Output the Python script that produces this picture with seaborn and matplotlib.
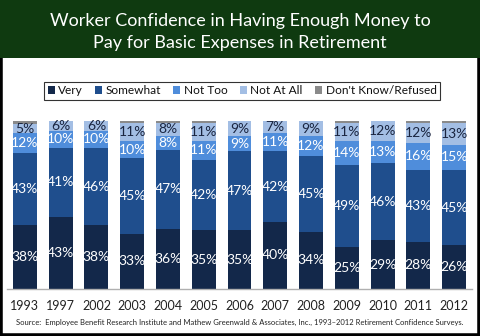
import matplotlib
matplotlib.use("Agg")
import matplotlib.pyplot as plt
import seaborn as sns
import numpy as np
from matplotlib.patches import Rectangle, Patch

years = ["1993", "1997", "2002", "2003", "2004", "2005", "2006", "2007", "2008", "2009", "2010", "2011", "2012"]
very = [38, 43, 38, 33, 36, 35, 35, 40, 34, 25, 29, 28, 26]
somewhat = [43, 41, 46, 45, 47, 42, 47, 42, 45, 49, 46, 43, 45]
not_too = [12, 10, 10, 10, 8, 11, 9, 11, 12, 14, 13, 16, 15]
not_at_all = [5, 6, 6, 11, 8, 11, 9, 7, 9, 11, 12, 12, 13]
dont_know = [2, 0, 0, 1, 1, 1, 0, 0, 0, 1, 0, 1, 1]

series_names = ["Very", "Somewhat", "Not Too", "Not At All", "Don't Know/Refused"]
series_vals = [very, somewhat, not_too, not_at_all, dont_know]
colors = ["#13284a", "#1f4e8d", "#4f8ddb", "#a3bee4", "#8a8a8a"]
label_colors = ["white", "white", "white", "#1a2540", None]

sns.set_style("white")
plt.rcParams["font.family"] = ["Lato", "DejaVu Sans"]

fig = plt.figure(figsize=(4.8, 3.36), dpi=100, facecolor="white")
W, H = 480, 336

# border and title bar
fig.patches.append(Rectangle((0, 0), 1, 1, transform=fig.transFigure,
                             facecolor="none", edgecolor="black", linewidth=4, zorder=5))
fig.patches.append(Rectangle((0, 1 - 58 / H), 1, 58 / H, transform=fig.transFigure,
                             facecolor="#0f3a10", edgecolor="none", zorder=6))
fig.text(0.5, 1 - 21 / H, "Worker Confidence in Having Enough Money to",
         color="white", ha="center", va="center", fontsize=13, zorder=7)
fig.text(0.5, 1 - 43 / H, "Pay for Basic Expenses in Retirement",
         color="white", ha="center", va="center", fontsize=13, zorder=7)

ax = fig.add_axes([7 / W, 1 - 289 / H, (472 - 7) / W, (289 - 121) / H])

bottom = np.zeros(len(years))
for name, vals, col in zip(series_names, series_vals, colors):
    v = np.array(vals, dtype=float)
    sns.barplot(x=years, y=v, order=years, color=col, bottom=bottom, width=0.67,
                ax=ax, saturation=1, linewidth=0, edgecolor="none")
    bottom = bottom + v

bottom = np.zeros(len(years))
for vals, lc in zip(series_vals, label_colors):
    v = np.array(vals, dtype=float)
    if lc is not None:
        for i, val in enumerate(v):
            ax.text(i, bottom[i] + val / 2, f"{int(val)}%", ha="center", va="center",
                    color=lc, fontsize=10, clip_on=False)
    bottom = bottom + v

ax.set_xlim(-0.5, len(years) - 0.5)
ax.set_ylim(0, 100)
ax.set_yticks([])
for s in ["top", "right", "left"]:
    ax.spines[s].set_visible(False)
ax.spines["bottom"].set_color("#b0b0b0")
ax.spines["bottom"].set_linewidth(1)
ax.tick_params(axis="x", length=0, pad=8, labelsize=9, labelcolor="#222222")
ax.set_xlabel("")
ax.set_ylabel("")
ax.patch.set_alpha(0)

handles = [Patch(facecolor=c, edgecolor="none") for c in colors]
leg = fig.legend(handles, series_names, loc="center", bbox_to_anchor=(242 / W, 1 - 91 / H),
                 ncol=5, frameon=True, fontsize=8.6, handlelength=0.6, handleheight=0.6,
                 handletextpad=0.3, columnspacing=1.0, borderpad=0.3, fancybox=False)
leg.get_frame().set_edgecolor("black")
leg.get_frame().set_linewidth(0.8)
for t in leg.get_texts():
    t.set_color("#111111")

fig.text(0.5, 1 - 322 / H,
         "Source:  Employee Benefit Research Institute and Mathew Greenwald & Associates, Inc., 1993\u20132012 Retirement Confidence Surveys.",
         ha="center", va="center", fontsize=5.5, color="#222222")

fig.savefig("out.png", dpi=100, facecolor="white")
